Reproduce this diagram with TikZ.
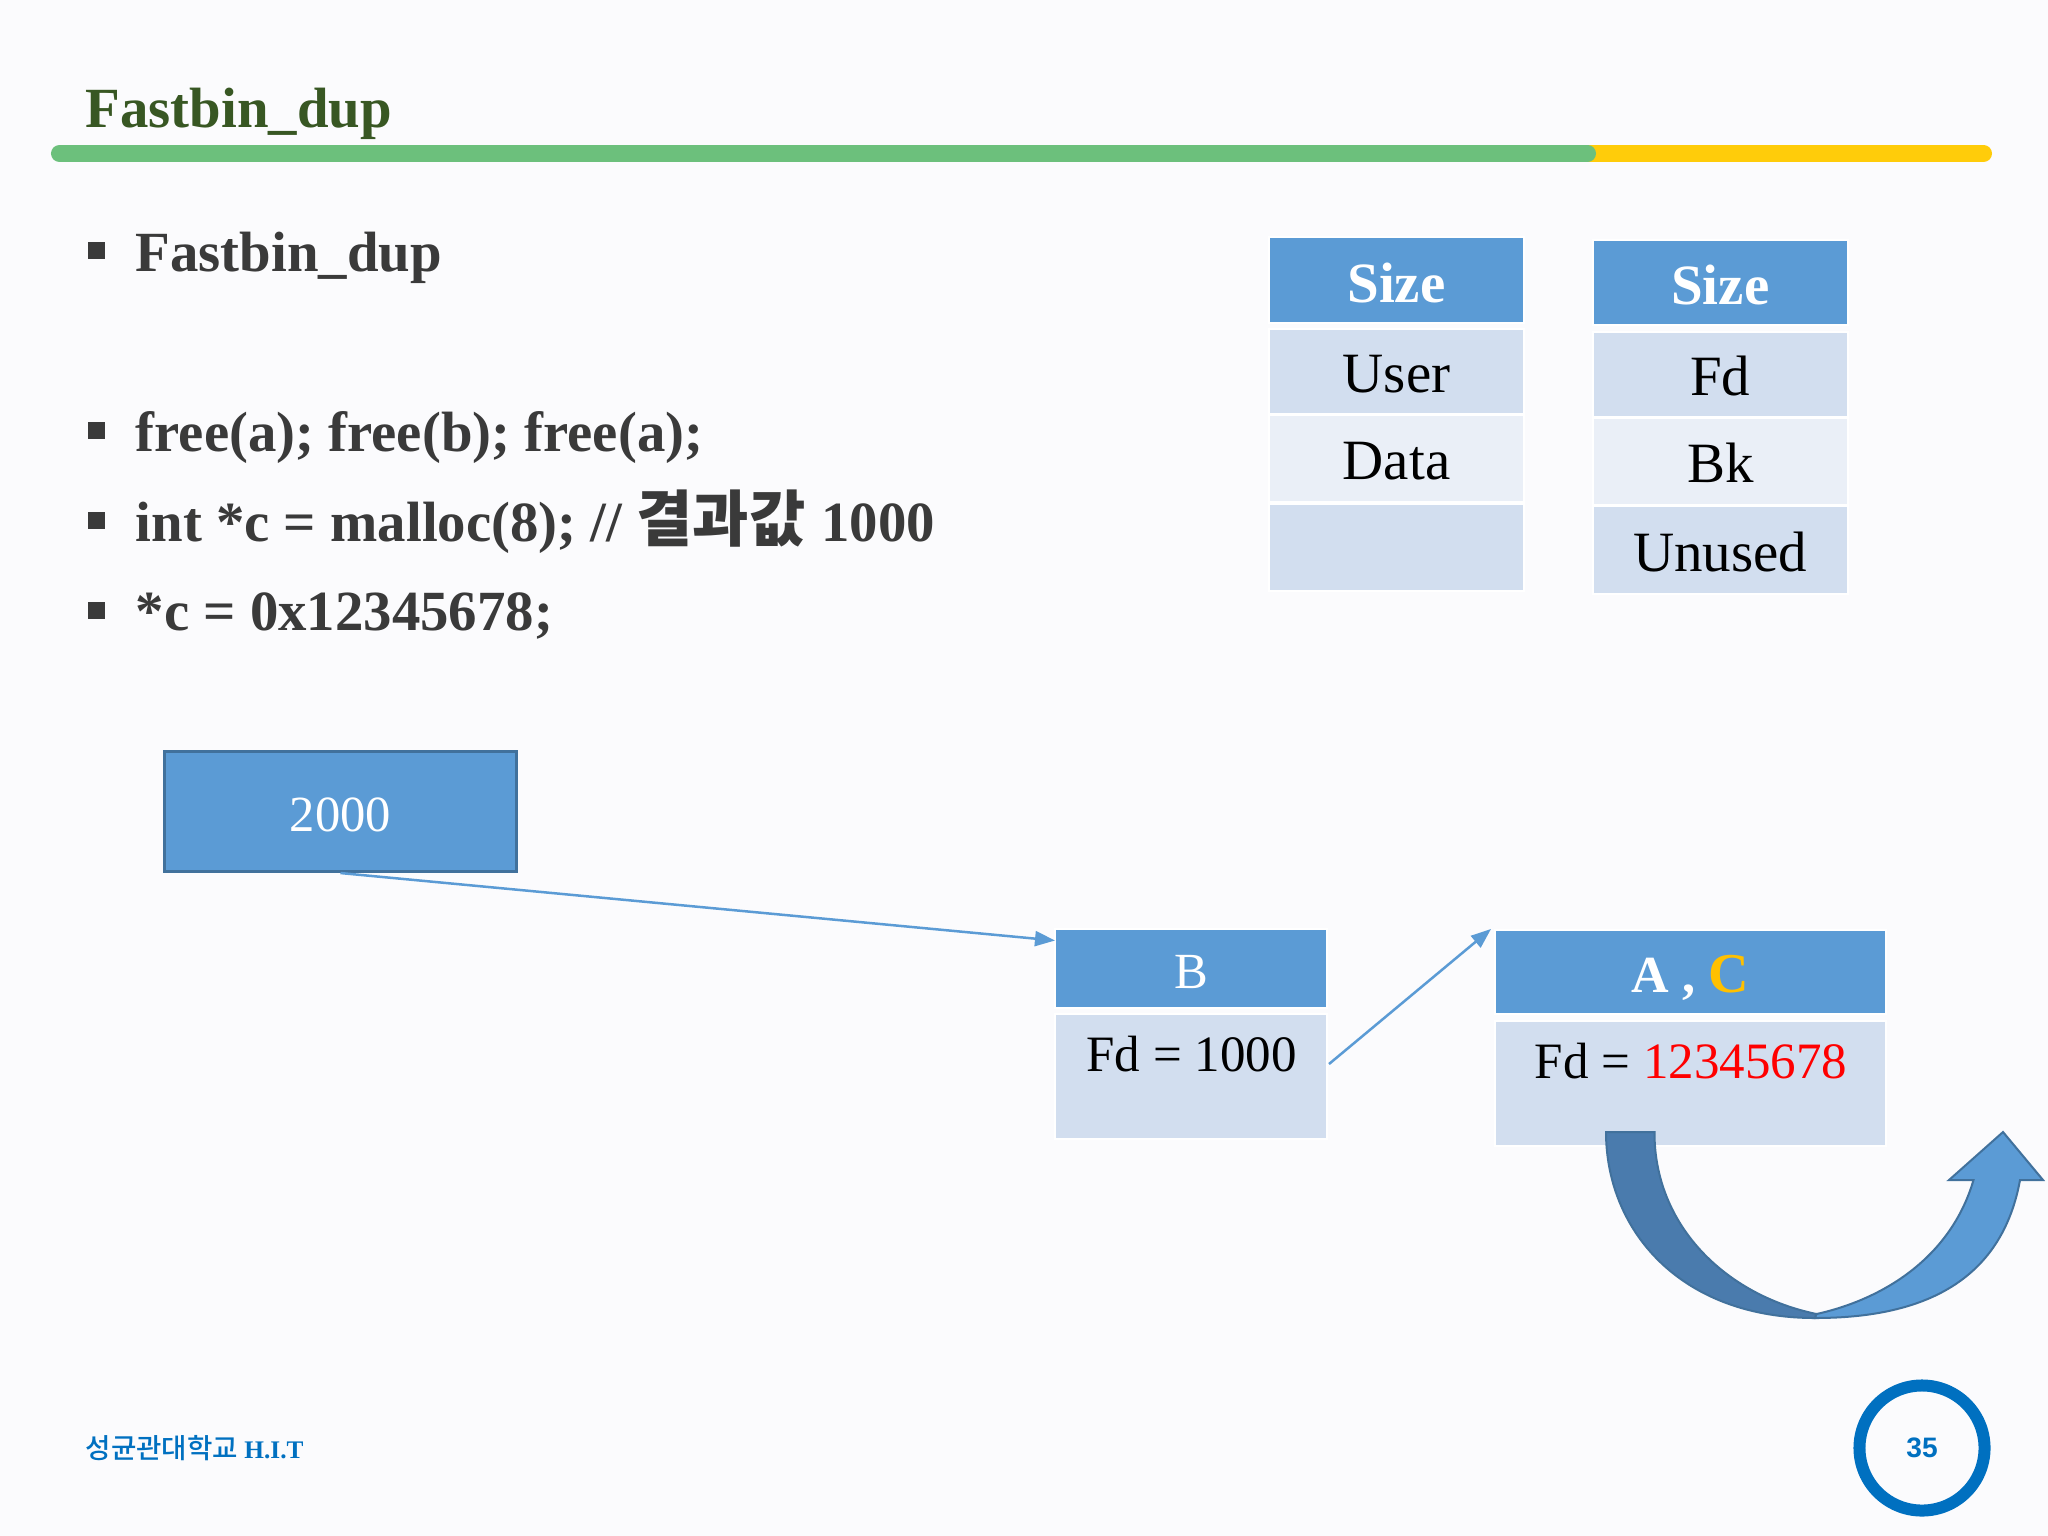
\documentclass[tikz,border=0pt]{standalone}
\usepackage{fontspec}
\setmainfont{Liberation Serif}
\newfontfamily\koreanfont{Noto Sans CJK KR}
\newfontfamily\schoolfont{Noto Sans CJK KR Medium}
\newfontfamily\pagefont{Liberation Sans}
\usetikzlibrary{arrows, arrows.meta}
\definecolor{slidebg}{HTML}{FBFBFD}
\definecolor{titlegreen}{HTML}{385723}
\definecolor{rulegreen}{HTML}{6CC07C}
\definecolor{ruleyellow}{HTML}{FFCC0A}
\definecolor{bodygray}{HTML}{3A3A3A}
\definecolor{headblue}{HTML}{5B9BD5}
\definecolor{edgeblue}{HTML}{41719C}
\definecolor{darkband}{HTML}{4A7BAD}
\definecolor{celldark}{HTML}{D2DEEF}
\definecolor{celllight}{HTML}{EAEFF7}
\definecolor{footblue}{HTML}{0070C0}
\definecolor{chunkgold}{HTML}{FFC000}
\newcommand{\sizept}[1]{\fontsize{#1}{#1}\selectfont}
\tikzset{
    slidetext/.style={anchor=base west, inner sep=0pt, font=\bfseries\sizept{16.15}},
    bulletbox/.style={rectangle, fill=bodygray, inner sep=0pt, minimum width=0.16cm, minimum height=0.17cm},
    sizecell/.style={rectangle, fill=headblue, draw=white, line width=0.02cm, inner sep=0pt, minimum width=2.55cm, text=white, text height=0.44cm, text depth=0pt, font=\bfseries\sizept{16.2}},
    darkcell/.style={rectangle, fill=celldark, draw=white, line width=0.02cm, inner sep=0pt, minimum width=2.55cm, text height=0.42cm, text depth=0pt, font=\sizept{16.2}},
    lightcell/.style={darkcell, fill=celllight},
    chunktext/.style={anchor=base, inner sep=0pt, font=\sizept{14.5}},
    pointer/.style={draw=headblue, line width=0.025cm, -{Triangle[length=0.2cm, width=0.15cm]}}
}

\begin{document}
\begin{tikzpicture}[x=0.01cm, y=-0.01cm]
    \fill[slidebg] (0,0) rectangle (2048,1536);
    \useasboundingbox (0,0) rectangle (2048,1536);

    \node[slidetext, text=titlegreen] (title) at (85,127) {Fastbin\_dup};
    \draw[ruleyellow, line width=0.17cm, line cap=round] (1500,153.5) -- (1983.5,153.5);
    \draw[rulegreen, line width=0.17cm, line cap=round] (59.5,153.5) -- (1587.5,153.5);

    \node[bulletbox] (b1) at (96.5,250.5) {};
    \node[bulletbox] (b2) at (96.5,430.5) {};
    \node[bulletbox] (b3) at (96.5,520.5) {};
    \node[bulletbox] (b4) at (96.5,610) {};
    \node[slidetext, text=bodygray] (line1) at (135,271) {Fastbin\_dup};
    \node[slidetext, text=bodygray] (line2) at (135,451) {free(a); free(b); free(a);};
    \node[slidetext, text=bodygray] (line3) at (135,541) {int *c = malloc(8); // {\koreanfont\sizept{17.4}결과값}\kern0.02cm{} 1000};
    \node[slidetext, text=bodygray] (line4) at (135,630) {*c = 0x12345678;};

    \node[sizecell, minimum height=0.85cm] (lsize) at (1396.5,280) {Size};
    \node[darkcell, minimum height=0.85cm] (luser) at (1396.5,371.5) {User};
    \node[lightcell, minimum height=0.87cm] (ldata) at (1396.5,458.8) {Data};
    \node[darkcell, minimum height=0.87cm] (lempty) at (1396.5,547.8) {};

    \node[sizecell, minimum height=0.85cm] (rsize) at (1720.3,282.5) {Size};
    \node[darkcell, minimum height=0.85cm] (rfd) at (1720.3,374.4) {Fd};
    \node[lightcell, minimum height=0.87cm] (rbk) at (1720.3,461.5) {Bk};
    \node[darkcell, minimum height=0.87cm] (runused) at (1720.3,550) {Unused};

    \node[rectangle, fill=headblue, draw=edgeblue, line width=0.03cm, minimum width=3.52cm, minimum height=1.2cm, inner sep=0pt, text=white, text height=0.39cm, text depth=0pt, font=\sizept{14.4}] (top) at (340.5,811.5) {2000};

    \node[sizecell, minimum width=2.72cm, minimum height=0.78cm, text height=0.39cm, font=\sizept{14.4}] (bhead) at (1191,968.5) {B};
    \node[darkcell, minimum width=2.72cm, minimum height=1.25cm] (bbody) at (1191,1076.5) {};
    \node[chunktext] (bfd) at (1191.5,1071) {Fd = 1000};

    \node[sizecell, minimum width=3.9cm, minimum height=0.84cm, text height=0.41cm] (ahead) at (1690.5,972) {\sizept{14.8}A , \textcolor{chunkgold}{\sizept{16}C}};
    \node[darkcell, minimum width=3.9cm, minimum height=1.25cm] (abody) at (1690.5,1083.5) {};
    \node[chunktext] (afd) at (1691,1078) {Fd = \textcolor{red}{12345678}};

    \coordinate (bentry) at (1055,940.5);
    \coordinate (aentry) at (1491,929);
    \coordinate (bexit) at (1329,1064);
    \draw[pointer] (top.south) -- (bentry);
    \draw[pointer] (bexit) -- (aentry);

    \filldraw[fill=darkband, draw=edgeblue, line width=0.02cm] (1606,1132) .. controls (1606,1230) and (1680,1318) .. (1815,1318) -- (1816.5,1314) .. controls (1725,1295) and (1654,1225) .. (1654.5,1132) -- cycle;
    \filldraw[fill=headblue, draw=edgeblue, line width=0.02cm] (1815,1318) .. controls (1910,1318) and (2000,1290) .. (2020,1180) -- (2043,1180) -- (2003,1132) -- (1949,1180) -- (1973.5,1180) .. controls (1950,1260) and (1880,1300) .. (1816.5,1314) -- cycle;

    \node[anchor=base west, inner sep=0pt, text=footblue, font=\bfseries\sizept{7.2}] (school) at (85,1458) {{\schoolfont\mdseries\sizept{7.85}성균관대학교} H.I.T};
    \node[circle, draw=footblue, line width=0.12cm, minimum size=1.25cm, inner sep=0pt, text=footblue, font=\pagefont\bfseries\sizept{8}] (page) at (1922,1448) {35};
\end{tikzpicture}
\end{document}
